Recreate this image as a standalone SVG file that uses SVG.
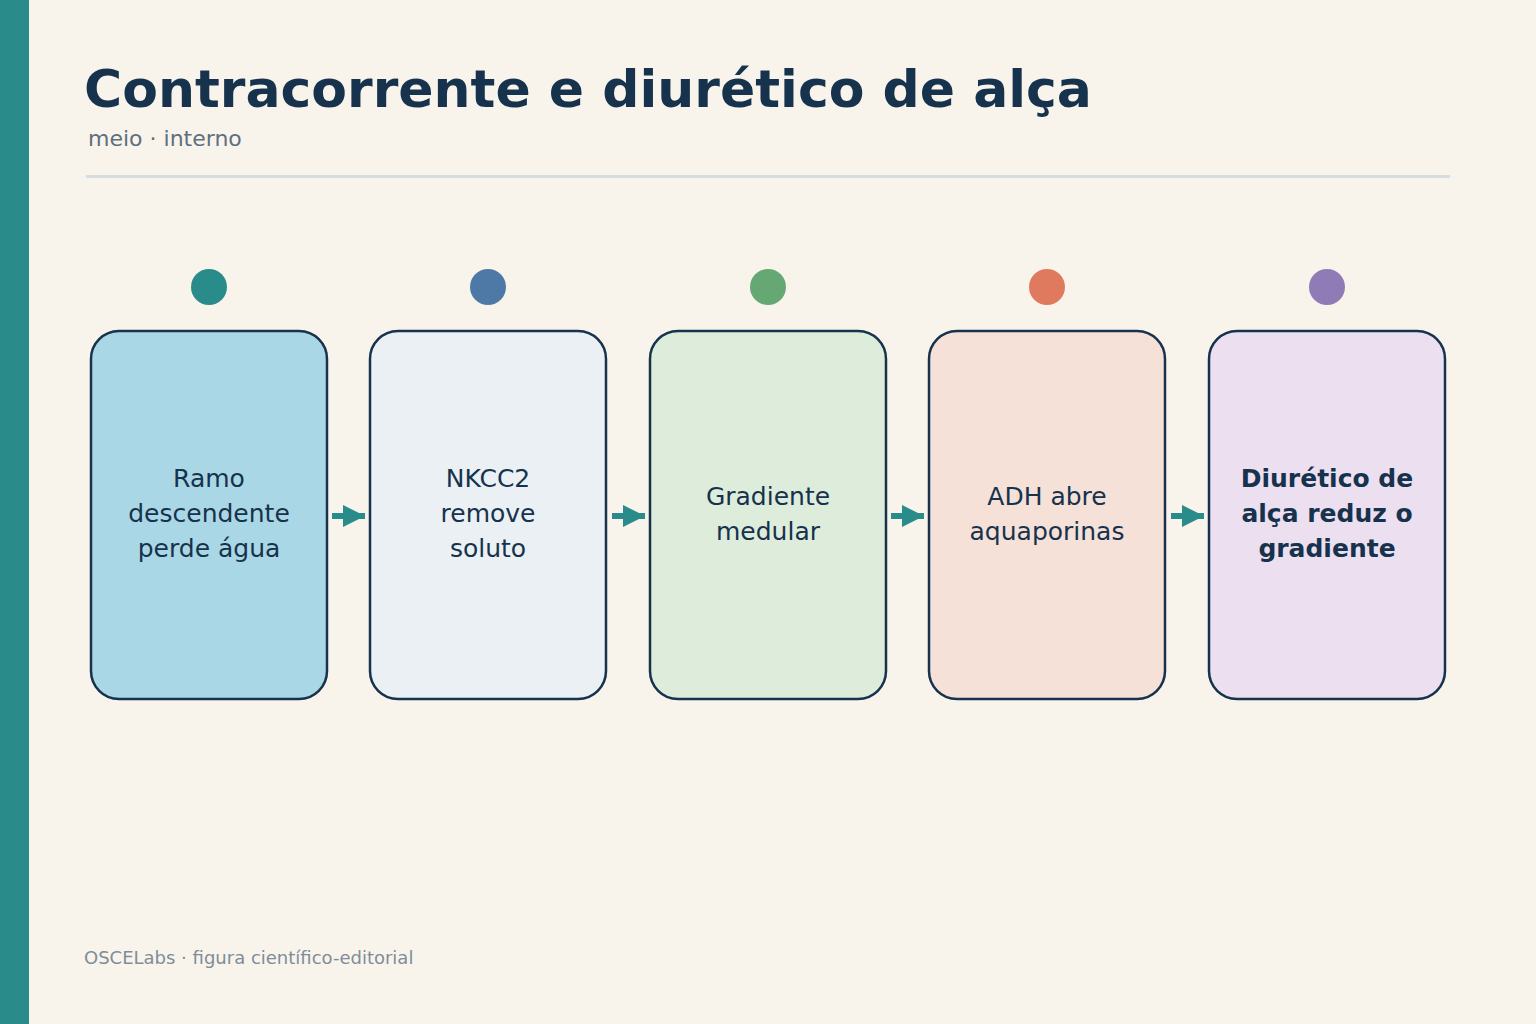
<svg xmlns="http://www.w3.org/2000/svg" width="1536" height="1024" viewBox="0 0 1536 1024">
<style>
text{font-family:"DejaVu Sans",sans-serif}
.box{stroke:#17324d;stroke-width:2.5}
.lbl{font-size:25px;fill:#17324d;text-anchor:middle}
.b{font-weight:bold}
.con{stroke:#2a8c8a;stroke-width:6;fill:none}
</style>
<defs><marker id="ah" viewBox="0 0 10 10" refX="10" refY="5" markerWidth="3.7" markerHeight="4.3" orient="auto" markerUnits="strokeWidth"><path d="M0,0L10,5L0,10z" fill="#2a8c8a"/></marker></defs>
<rect width="1536" height="1024" fill="#f8f4ec"/>
<rect width="29" height="1024" fill="#2a8c8a"/>
<text x="84" y="107" font-size="52" font-weight="bold" fill="#17324d">Contracorrente e diurético de alça</text>
<text x="88" y="146" font-size="22" fill="#5f6f7c">meio · interno</text>
<rect x="86" y="175" width="1364" height="3" fill="#d5dde0"/>
<g id="connectors">
<line class="con" x1="332" y1="516" x2="365" y2="516" marker-end="url(#ah)"/>
<line class="con" x1="612" y1="516" x2="645" y2="516" marker-end="url(#ah)"/>
<line class="con" x1="891" y1="516" x2="924" y2="516" marker-end="url(#ah)"/>
<line class="con" x1="1171" y1="516" x2="1204" y2="516" marker-end="url(#ah)"/>
</g>
<g id="n1"><circle cx="209" cy="287" r="18" fill="#2a8c8a"/><rect class="box" x="91" y="331" width="236" height="368" rx="28" fill="#aad7e5"/>
<text class="lbl"><tspan x="209" y="487">Ramo</tspan><tspan x="209" y="522">descendente</tspan><tspan x="209" y="557">perde água</tspan></text></g>
<g id="n2"><circle cx="488" cy="287" r="18" fill="#4e79a7"/><rect class="box" x="370" y="331" width="236" height="368" rx="28" fill="#eaf0f3"/>
<text class="lbl"><tspan x="488" y="487">NKCC2</tspan><tspan x="488" y="522">remove</tspan><tspan x="488" y="557">soluto</tspan></text></g>
<g id="n3"><circle cx="768" cy="287" r="18" fill="#66a873"/><rect class="box" x="650" y="331" width="236" height="368" rx="28" fill="#deeddb"/>
<text class="lbl"><tspan x="768" y="505">Gradiente</tspan><tspan x="768" y="540">medular</tspan></text></g>
<g id="n4"><circle cx="1047" cy="287" r="18" fill="#e07a5f"/><rect class="box" x="929" y="331" width="236" height="368" rx="28" fill="#f5e1d8"/>
<text class="lbl"><tspan x="1047" y="505">ADH abre</tspan><tspan x="1047" y="540">aquaporinas</tspan></text></g>
<g id="n5"><circle cx="1327" cy="287" r="18" fill="#8f7bb6"/><rect class="box" x="1209" y="331" width="236" height="368" rx="28" fill="#ebdff0"/>
<text class="lbl b"><tspan x="1327" y="487">Diurético de</tspan><tspan x="1327" y="522">alça reduz o</tspan><tspan x="1327" y="557">gradiente</tspan></text></g>
<text x="84" y="964" font-size="18" fill="#7f8d98">OSCELabs · figura científico-editorial</text>
</svg>
